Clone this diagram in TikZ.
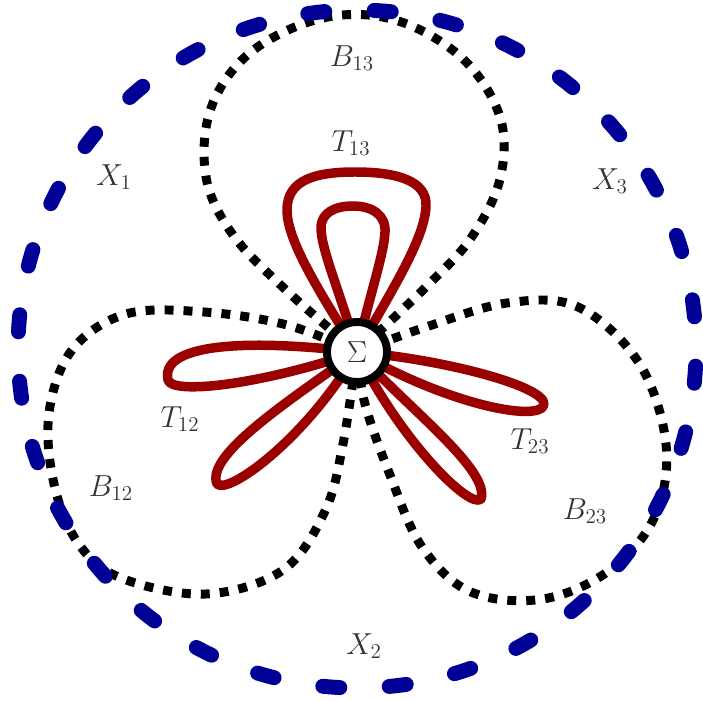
\documentclass[tikz,border=0pt]{standalone}
\usetikzlibrary{calc}
\definecolor{xblue}{RGB}{0,0,150}
\definecolor{tred}{RGB}{155,0,0}
\definecolor{labgray}{RGB}{51,51,51}

\begin{document}
\begin{tikzpicture}[
    x=0.02cm, y=-0.02cm,
    xdash/.style={draw=xblue, line width=8.5pt, line cap=round},
    bdots/.style={draw=black, line width=5.1pt, dash pattern=on 5.1pt off 5.7pt},
    tloop/.style={draw=tred, line width=5.4pt, line join=round},
    lab/.style={text=labgray, font=\fontsize{16.5}{20}\selectfont}
  ]
  \useasboundingbox (0,0) rectangle (703,702);
  \coordinate (ctr) at (357,352);
  \coordinate (xc) at (357,349);

  \draw[bdots] plot[smooth, tension=0.6] coordinates {(ctr) (287,291) (233,235)
    (206,177) (211,108) (251,52) (323,18) (395,20) (462,58) (500,117) (500,179)
    (471,238) (426,287) (ctr)};
  \draw[bdots] plot[smooth, tension=0.6] coordinates {(ctr) (287,325) (204,312)
    (126,314) (72,350) (49,413) (54,484) (78,543) (121,578) (206,594) (283,570)
    (325,511) (343,444) (ctr)};
  \draw[bdots] plot[smooth, tension=0.6] coordinates {(ctr) (426,327) (507,303)
    (578,307) (639,363) (666,444) (655,516) (610,570) (543,599) (471,592)
    (422,547) (390,475) (365,404) (ctr)};

  \foreach \k in {0,...,31}
    \draw[xdash] ($(xc)+({-8.35+\k*11.25}:339)$)
      arc[start angle={-8.35+\k*11.25}, delta angle=2.9, radius=339];

  \draw[tloop] (ctr) .. controls (318,290) and (287,240) .. (287,210)
    .. controls (287,180) and (315,172) .. (355,172)
    .. controls (395,172) and (428,180) .. (426,207)
    .. controls (424,240) and (392,290) .. (ctr);
  \draw[tloop] (ctr) .. controls (343,300) and (321,250) .. (321,228)
    .. controls (321,212) and (336,206) .. (353,206)
    .. controls (372,206) and (386,215) .. (385,232)
    .. controls (384,255) and (368,300) .. (ctr);
  \draw[tloop] (ctr) .. controls (240,338) and (160,345) .. (168,380)
    .. controls (172,395) and (260,385) .. (ctr);
  \draw[tloop] (ctr) .. controls (290,400) and (205,455) .. (217,484)
    .. controls (228,495) and (305,440) .. (ctr);
  \draw[tloop] (ctr) .. controls (450,360) and (560,390) .. (542,408)
    .. controls (525,420) and (440,400) .. (ctr);
  \draw[tloop] (ctr) .. controls (410,410) and (490,470) .. (481,499)
    .. controls (470,510) and (400,440) .. (ctr);

  \node[draw, circle, line width=4.5pt, fill=white, minimum size=1.2cm,
        inner sep=0pt, lab] (sig) at (ctr) {$\Sigma$};

  \node[lab] (b13) at (352,58) {$B_{13}$};
  \node[lab] (t13) at (351,143) {$T_{13}$};
  \node[lab] (x1) at (114,177) {$X_1$};
  \node[lab] (x3) at (610,181) {$X_3$};
  \node[lab] (t12) at (180,419) {$T_{12}$};
  \node[lab] (b12) at (111,488) {$B_{12}$};
  \node[lab] (t23) at (530,441) {$T_{23}$};
  \node[lab] (b23) at (585,511) {$B_{23}$};
  \node[lab] (x2) at (364,646) {$X_2$};
\end{tikzpicture}
\end{document}
